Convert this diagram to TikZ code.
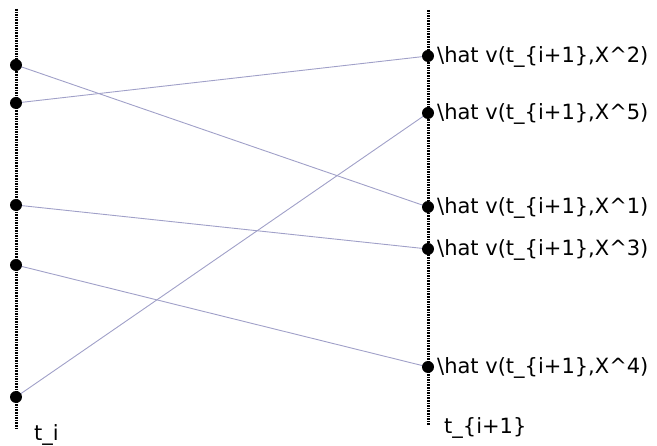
\documentclass[tikz,border=0pt]{standalone}
\usepackage{fontspec}
\setmainfont{DejaVu Sans}
\begin{document}
\begin{tikzpicture}[x=1pt,y=-1pt,
  axis/.style={line width=3pt, dash pattern=on 1.6pt off 1pt, black},
  dotn/.style={circle, fill=black, inner sep=0pt, minimum size=12pt},
  lbl/.style={anchor=west, inner sep=0pt, font=\fontsize{21}{23}\selectfont},
  conn/.style={line width=0.9pt, color={rgb,255:red,160;green,160;blue,200}}]
\useasboundingbox (0,0) rectangle (657,446);
% axes
\coordinate (lt) at (16,9);
\coordinate (lb) at (16,430);
\coordinate (rt) at (428,10);
\coordinate (rb) at (428,425);
\draw[axis] (lt) -- (lb);
\draw[axis] (rt) -- (rb);
% left dot positions
\coordinate (c1) at (16,65);
\coordinate (c2) at (16,103);
\coordinate (c3) at (16,205);
\coordinate (c4) at (16,265);
\coordinate (c5) at (16,397);
% right dot positions
\coordinate (d2) at (428,56);
\coordinate (d5) at (428,113);
\coordinate (d1) at (428,207);
\coordinate (d3) at (428,249);
\coordinate (d4) at (428,367);
% connectors
\draw[conn] (c1) -- (d1);
\draw[conn] (c2) -- (d2);
\draw[conn] (c3) -- (d3);
\draw[conn] (c4) -- (d4);
\draw[conn] (c5) -- (d5);
% dots
\node[dotn] (l1) at (c1) {};
\node[dotn] (l2) at (c2) {};
\node[dotn] (l3) at (c3) {};
\node[dotn] (l4) at (c4) {};
\node[dotn] (l5) at (c5) {};
\node[dotn] (r2) at (d2) {};
\node[dotn] (r5) at (d5) {};
\node[dotn] (r1) at (d1) {};
\node[dotn] (r3) at (d3) {};
\node[dotn] (r4) at (d4) {};
% labels
\node[lbl] (t2) at (437,57) {\textbackslash hat v(t\_\{i+1\},X\^{}2)};
\node[lbl] (t5) at (437,114) {\textbackslash hat v(t\_\{i+1\},X\^{}5)};
\node[lbl] (t1) at (437,208) {\textbackslash hat v(t\_\{i+1\},X\^{}1)};
\node[lbl] (t3) at (437,250) {\textbackslash hat v(t\_\{i+1\},X\^{}3)};
\node[lbl] (t4) at (437,368) {\textbackslash hat v(t\_\{i+1\},X\^{}4)};
\node[lbl] (ti) at (34,435) {t\_i};
\node[lbl] (tip) at (444,428) {t\_\{i+1\}};
\end{tikzpicture}
\end{document}
